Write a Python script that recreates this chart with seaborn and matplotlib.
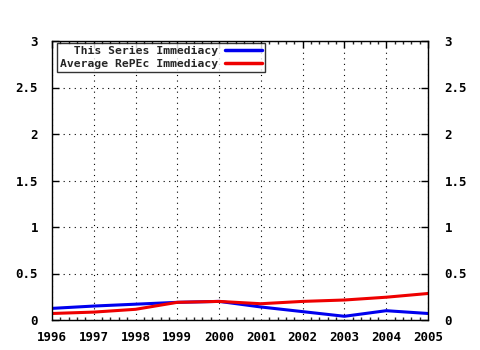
import matplotlib
matplotlib.use("Agg")
import matplotlib.pyplot as plt
import seaborn as sns
import pandas as pd
from matplotlib.ticker import MultipleLocator

years = [1996, 1997, 1998, 1999, 2000, 2001, 2002, 2003, 2004, 2005]
series_immediacy = [0.125, 0.15, 0.17, 0.19, 0.20, 0.14, 0.09, 0.04, 0.10, 0.07]
repec_immediacy = [0.07, 0.085, 0.115, 0.19, 0.20, 0.175, 0.20, 0.215, 0.245, 0.285]
labels = ["  This Series Immediacy", "Average RePEc Immediacy"]
yticks = [0, 0.5, 1, 1.5, 2, 2.5, 3]
ytick_labels = ["0", "0.5", "1", "1.5", "2", "2.5", "3"]

sns.set_style("white")
plt.rcParams['font.family'] = ['DejaVu Sans Mono']
plt.rcParams['font.weight'] = 'bold'

df = pd.DataFrame({"year": years * 2,
                   "value": series_immediacy + repec_immediacy,
                   "series": [labels[0]] * len(years) + [labels[1]] * len(years)})

fig = plt.figure(figsize=(4.8, 3.5), dpi=100)
ax = fig.add_axes([52/480, 30/350, 376/480, 279/350])
sns.lineplot(data=df, x="year", y="value", hue="series",
             palette={labels[0]: "#0000ee", labels[1]: "#ee0000"},
             linewidth=2.2, ax=ax, legend=True)
ax.set_xlim(1996, 2005)
ax.set_ylim(0, 3)
ax.set_xticks(years)
ax.set_xticklabels([str(y) for y in years])
ax.set_yticks(yticks)
ax.set_yticklabels(ytick_labels)
ax.xaxis.set_minor_locator(MultipleLocator(0.2))
ax.grid(True, which='major', color='black', linestyle=(0, (1, 4)), linewidth=0.8)
ax.set_xlabel("")
ax.set_ylabel("")
for s in ax.spines.values():
    s.set_color('black')
    s.set_linewidth(1)
ax.tick_params(axis='both', which='major', direction='in', length=5, width=1,
               top=True, right=True, labelsize=9, colors='black')
ax.tick_params(axis='y', pad=10)
ax.tick_params(axis='x', pad=8)
ax.tick_params(axis='x', which='minor', direction='in', length=2.5, width=1, top=True, bottom=True)
for t in ax.get_xticklabels() + ax.get_yticklabels():
    t.set_fontweight('bold')

ax2 = ax.twinx()
ax2.set_ylim(0, 3)
ax2.set_yticks(yticks)
ax2.set_yticklabels(ytick_labels)
ax2.tick_params(axis='y', direction='in', length=5, width=1, labelsize=9, pad=12, colors='black')
for t in ax2.get_yticklabels():
    t.set_fontweight('bold')
ax2.set_ylabel("")
for s in ax2.spines.values():
    s.set_visible(False)

leg = ax.legend(loc='upper left', bbox_to_anchor=(0.013, 0.993), markerfirst=False,
                frameon=True, fancybox=False, handlelength=3.3, handletextpad=0.6,
                borderpad=0.25, labelspacing=0.25,
                prop={'family': 'DejaVu Sans Mono', 'weight': 'bold', 'size': 8.2},
                borderaxespad=0)
leg.get_frame().set_edgecolor('black')
leg.get_frame().set_linewidth(1)
for l in leg.get_lines():
    l.set_linewidth(2.5)
fig.savefig("out.png", dpi=100)
